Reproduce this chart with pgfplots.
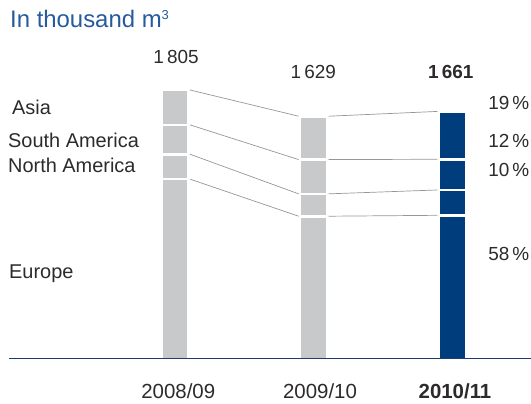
\documentclass[border=0pt]{standalone}
\usepackage{pgfplots}
\pgfplotsset{compat=1.18}
\usepackage{fontspec}
\setmainfont{Liberation Sans}
\definecolor{bargray}{RGB}{200,201,203}
\definecolor{barblue}{RGB}{0,61,124}
\definecolor{titleblue}{RGB}{38,90,158}
\definecolor{lineblue}{RGB}{30,60,110}
\definecolor{txt}{RGB}{45,42,43}
\definecolor{conn}{RGB}{150,150,150}
\pgfplotsset{
  base/.style={
    scale only axis, width=522bp, height=327.9bp,
    xmin=-1.197, xmax=2.568, ymin=0, ymax=2200,
    at={(9bp,45bp)}, anchor=south west,
    clip=false,
  },
  segbar/.style={draw=white, line width=2.6bp, bar width=27.2bp},
}
\begin{document}
\begin{tikzpicture}
\path[use as bounding box] (0,0) rectangle (531bp,404bp);
% gray bars 2008/09 and 2009/10 (stacked: Europe, North America, South America, Asia)
\begin{axis}[base, hide axis, ybar stacked]
  \addplot[segbar, fill=bargray] coordinates {(0,1207) (1,958)};
  \addplot[segbar, fill=bargray] coordinates {(0,167) (1,150)};
  \addplot[segbar, fill=bargray] coordinates {(0,197) (1,230)};
  \addplot[segbar, fill=bargray] coordinates {(0,234) (1,291)};
\end{axis}
% blue bar 2010/11
\begin{axis}[base, hide axis, ybar stacked]
  \addplot[segbar, fill=barblue] coordinates {(2,964)};
  \addplot[segbar, fill=barblue] coordinates {(2,170)};
  \addplot[segbar, fill=barblue] coordinates {(2,206)};
  \addplot[segbar, fill=barblue] coordinates {(2,321)};
\end{axis}
% connectors and baseline
\begin{axis}[base, axis x line=bottom, axis y line=none,
  x axis line style={-, lineblue, line width=1bp},
  xtick=\empty, ytick=\empty]
  \addplot[conn, line width=0.7bp] coordinates {(0.108,1805) (0.892,1629)};
  \addplot[conn, line width=0.7bp] coordinates {(0.108,1571) (0.892,1338)};
  \addplot[conn, line width=0.7bp] coordinates {(0.108,1374) (0.892,1108)};
  \addplot[conn, line width=0.7bp] coordinates {(0.108,1207) (0.892,958)};
  \addplot[conn, line width=0.7bp] coordinates {(1.108,1629) (1.892,1661)};
  \addplot[conn, line width=0.7bp] coordinates {(1.108,1338) (1.892,1340)};
  \addplot[conn, line width=0.7bp] coordinates {(1.108,1108) (1.892,1134)};
  \addplot[conn, line width=0.7bp] coordinates {(1.108,958) (1.892,964)};
\end{axis}
% texts
\node[anchor=base west, inner sep=0, text=titleblue, font=\fontsize{24}{28}\selectfont] at (10bp,376bp) {In thousand m\textsuperscript{\fontsize{13}{14}\selectfont 3}};
\begin{scope}[every node/.style={inner sep=0, text=txt, font=\fontsize{19}{23}\selectfont}]
\node[anchor=base] at (176bp,340.7bp) {1\,805};
\node[anchor=base] at (313.3bp,325.7bp) {1\,629};
\node[anchor=base] at (450.8bp,325.7bp) {\bfseries 1\,661};
\node[anchor=base west, font=\fontsize{20}{24}\selectfont] at (12bp,289bp) {Asia};
\node[anchor=base west, font=\fontsize{20}{24}\selectfont] at (8bp,256bp) {South America};
\node[anchor=base west, font=\fontsize{20}{24}\selectfont] at (8bp,231bp) {North America};
\node[anchor=base west, font=\fontsize{20}{24}\selectfont] at (9bp,125bp) {Europe};
\node[anchor=base east] at (529.5bp,294bp) {19\,\%};
\node[anchor=base east] at (529.5bp,256bp) {12\,\%};
\node[anchor=base east] at (529.5bp,227.5bp) {10\,\%};
\node[anchor=base east] at (529.5bp,143bp) {58\,\%};
\node[anchor=base, font=\fontsize{20.5}{24}\selectfont] at (178.3bp,6bp) {2008/09};
\node[anchor=base, font=\fontsize{20.5}{24}\selectfont] at (320bp,6bp) {2009/10};
\node[anchor=base, font=\fontsize{20.5}{24}\selectfont] at (455bp,6bp) {\bfseries 2010/11};
\end{scope}
\end{tikzpicture}
\end{document}
